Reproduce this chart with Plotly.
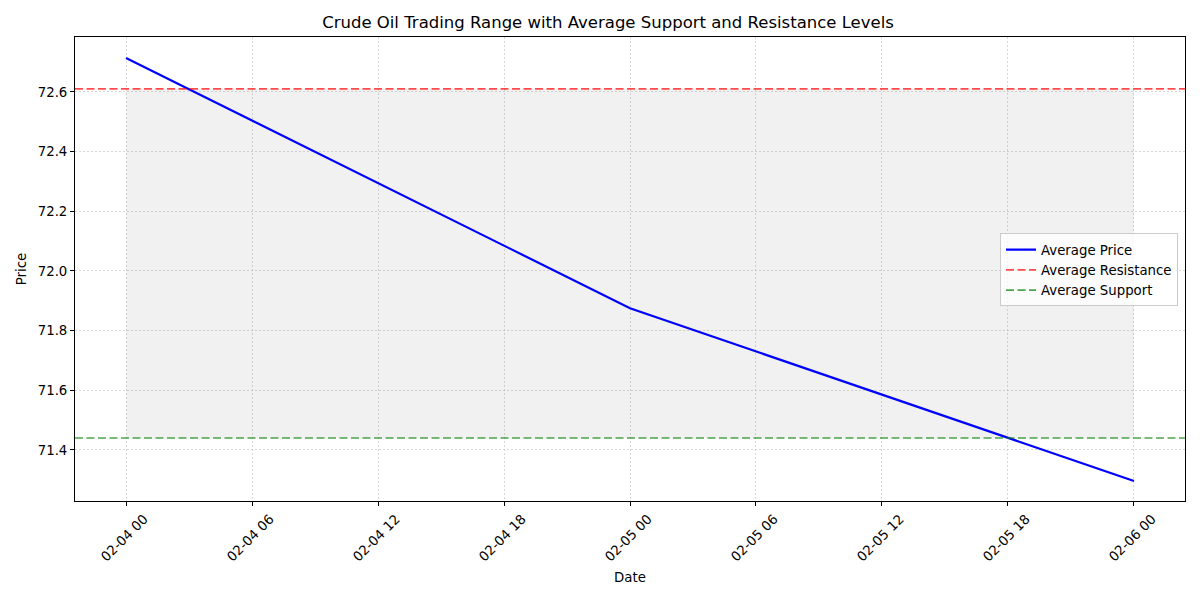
import plotly.graph_objects as go
import pandas as pd

dates = ["2024-02-04 00:00", "2024-02-05 00:00", "2024-02-06 00:00"]
avg_price = [72.714, 71.875, 71.296]
avg_resistance = 72.61
avg_support = 71.44

x = pd.to_datetime(dates)
x0 = x.min() - pd.Timedelta(hours=2.43)
x1 = x.max() + pd.Timedelta(hours=2.43)

fig = go.Figure()
# shaded range between support and resistance
fig.add_trace(go.Scatter(x=x, y=[avg_support] * len(x), mode="lines",
                         line=dict(width=0), showlegend=False, hoverinfo="skip"))
fig.add_trace(go.Scatter(x=x, y=[avg_resistance] * len(x), mode="lines",
                         line=dict(width=0), fill="tonexty",
                         fillcolor="rgba(128,128,128,0.11)", showlegend=False, hoverinfo="skip"))
fig.add_trace(go.Scatter(x=x, y=avg_price, mode="lines", name="Average Price",
                         line=dict(color="blue", width=2.2)))
fig.add_trace(go.Scatter(x=[x0, x1], y=[avg_resistance] * 2, mode="lines", name="Average Resistance",
                         line=dict(color="rgba(255,0,0,0.7)", width=1.6, dash="8px,3.5px")))
fig.add_trace(go.Scatter(x=[x0, x1], y=[avg_support] * 2, mode="lines", name="Average Support",
                         line=dict(color="rgba(0,128,0,0.7)", width=1.6, dash="8px,3.5px")))

axis_common = dict(showline=True, linecolor="black", linewidth=1, mirror=True,
                   ticks="outside", ticklen=4, tickcolor="black", automargin=False,
                   showgrid=True, gridcolor="rgba(200,200,200,0.7)", griddash="1.5px,2.5px",
                   gridwidth=0.8, zeroline=False, tickfont=dict(size=13.3, color="black"))

fig.update_layout(
    width=1200, height=600,
    font=dict(family="DejaVu Sans", size=13.3, color="black"),
    paper_bgcolor="white", plot_bgcolor="white",
    margin=dict(l=67, r=23, t=29, b=107),
    title=dict(text="Crude Oil Trading Range with Average Support and Resistance Levels",
               x=0.5, xanchor="center", y=0.977, yanchor="middle", font=dict(size=16.5)),
    xaxis=dict(title=dict(text="Date", font=dict(size=13.3), standoff=9),
               range=[x0, x1], tickformat="%m-%d %H", dtick=6 * 3600 * 1000,
               tick0="2024-02-04 00:00", tickangle=-45, ticklabelshift=18, **axis_common),
    yaxis=dict(title=dict(text="Price", font=dict(size=13.3), standoff=8),
               range=[71.229, 72.784], tickvals=[71.4, 71.6, 71.8, 72.0, 72.2, 72.4, 72.6],
               tickformat=".1f", **axis_common),
    legend=dict(x=0.9937, y=0.498, xanchor="right", yanchor="middle", traceorder="normal",
                bgcolor="rgba(255,255,255,0.8)", bordercolor="#cccccc", borderwidth=1,
                font=dict(size=13.3), tracegroupgap=0),
    showlegend=True,
)

fig.write_html("out.html")
